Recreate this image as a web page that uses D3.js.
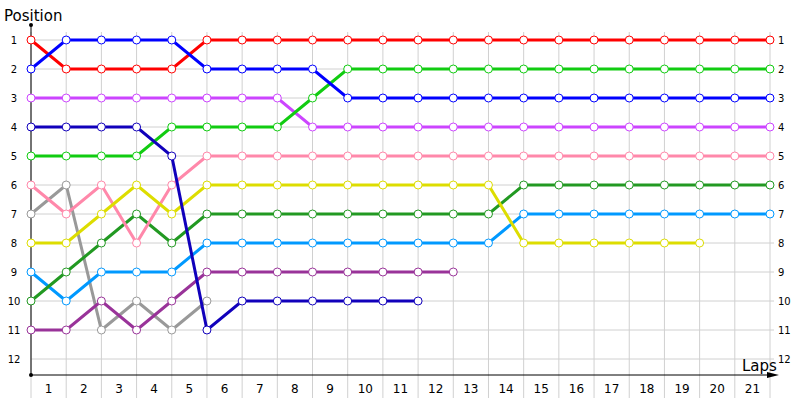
<!DOCTYPE html>
<html>
<head>
<meta charset="utf-8">
<script src="https://cdn.jsdelivr.net/npm/d3@7"></script>
<style>
  body { margin: 0; background: #fff; }
  svg { display: block; font-family: "DejaVu Sans", Verdana, sans-serif; }
</style>
</head>
<body>
<div id="chart"></div>
<script>
// lap race chart: position per lap for each car

const lapLabels = [1,2,3,4,5,6,7,8,9,10,11,12,13,14,15,16,17,18,19,20,21]
const positions = [1,2,3,4,5,6,7,8,9,10,11,12]

// positions, one value per lap index starting at the start line
const red       = [1,2,2,2,2,1,1,1,1,1,1,1,1,1,1,1,1,1,1,1,1,1]
const blue      = [2,1,1,1,1,2,2,2,2,3,3,3,3,3,3,3,3,3,3,3,3,3]
const violet    = [3,3,3,3,3,3,3,3,4,4,4,4,4,4,4,4,4,4,4,4,4,4]
const green     = [5,5,5,5,4,4,4,4,3,2,2,2,2,2,2,2,2,2,2,2,2,2]
const navy      = [4,4,4,4,5,11,10,10,10,10,10,10]
const pink      = [6,7,6,8,6,5,5,5,5,5,5,5,5,5,5,5,5,5,5,5,5,5]
const gray      = [7,6,11,10,11,10]
const yellow    = [8,8,7,6,7,6,6,6,6,6,6,6,6,6,8,8,8,8,8,8]
const darkgreen = [10,9,8,7,8,7,7,7,7,7,7,7,7,7,6,6,6,6,6,6,6,6]
const lightblue = [9,10,9,9,9,8,8,8,8,8,8,8,8,8,7,7,7,7,7,7,7,7]
const plum      = [11,11,10,11,10,9,9,9,9,9,9,9,9]

const series = [
  {color: "#999999", values: gray},
  {color: "#993399", values: plum},
  {color: "#0099ff", values: lightblue},
  {color: "#229922", values: darkgreen},
  {color: "#ff88aa", values: pink},
  {color: "#dddd00", values: yellow},
  {color: "#cc44ff", values: violet},
  {color: "#11cc11", values: green},
  {color: "#ff0000", values: red},
  {color: "#0000ff", values: blue},
  {color: "#1100bb", values: navy}
]

const width = 800, height = 400
const svg = d3.select("#chart").append("svg")
    .attr("width", width)
    .attr("height", height)

const x = d3.scaleLinear().domain([0, 21]).range([31, 770])
const y = d3.scaleLinear().domain([1, 12]).range([40, 359])
const axisY = 375

// grid
svg.append("g")
    .selectAll("line")
    .data(d3.range(0, 22)).enter()
    .append("line")
    .attr("x1", d => x(d)).attr("x2", d => x(d))
    .attr("y1", 32).attr("y2", 398)
    .style("stroke", "#d0d0d0")
svg.append("g")
    .selectAll("line")
    .data(positions).enter()
    .append("line")
    .attr("x1", x(0)).attr("x2", x(21) + 4)
    .attr("y1", d => y(d)).attr("y2", d => y(d))
    .style("stroke", "#d0d0d0")

// axes
svg.append("line")
    .attr("x1", x(0)).attr("x2", x(0))
    .attr("y1", 25).attr("y2", axisY)
    .style("stroke", "#000")
svg.append("line")
    .attr("x1", x(0)).attr("x2", 772)
    .attr("y1", axisY).attr("y2", axisY)
    .style("stroke", "#000")
svg.append("circle").attr("cx", x(0)).attr("cy", 25).attr("r", 2).style("fill", "#000")
svg.append("circle").attr("cx", x(0)).attr("cy", axisY).attr("r", 2).style("fill", "#000")
svg.append("path")
    .attr("d", "M767," + (axisY - 3) + "L779," + axisY + "L767," + (axisY + 3) + "Z")
    .style("fill", "#000")

// tick labels
svg.append("g")
    .selectAll("text")
    .data(positions).enter()
    .append("text")
    .attr("x", 14).attr("y", d => y(d) + 4)
    .attr("text-anchor", "middle")
    .style("font-size", "10px")
    .text(d => d)
svg.append("g")
    .selectAll("text")
    .data(positions).enter()
    .append("text")
    .attr("x", 778).attr("y", d => y(d) + 4)
    .style("font-size", "10px")
    .text(d => d)
svg.append("g")
    .selectAll("text")
    .data(lapLabels).enter()
    .append("text")
    .attr("x", d => x(d - 0.5)).attr("y", 393)
    .attr("text-anchor", "middle")
    .style("font-size", "12px")
    .text(d => d)

svg.append("text").attr("x", 4).attr("y", 21)
    .style("font-size", "15px").text("Position")
svg.append("text").attr("x", 742).attr("y", 371)
    .style("font-size", "15px").text("Laps")

// series
const line = d3.line().x((d, i) => x(i)).y(d => y(d))

series.forEach(s => {
  const g = svg.append("g")
  g.append("path")
      .attr("d", line(s.values))
      .style("fill", "none")
      .style("stroke", s.color)
      .style("stroke-width", 3)
  g.selectAll("circle")
      .data(s.values).enter()
      .append("circle")
      .attr("cx", (d, i) => x(i))
      .attr("cy", d => y(d))
      .attr("r", 4)
      .style("fill", "#fff")
      .style("stroke", s.color)
      .style("stroke-width", 1)
})
</script>
</body>
</html>
